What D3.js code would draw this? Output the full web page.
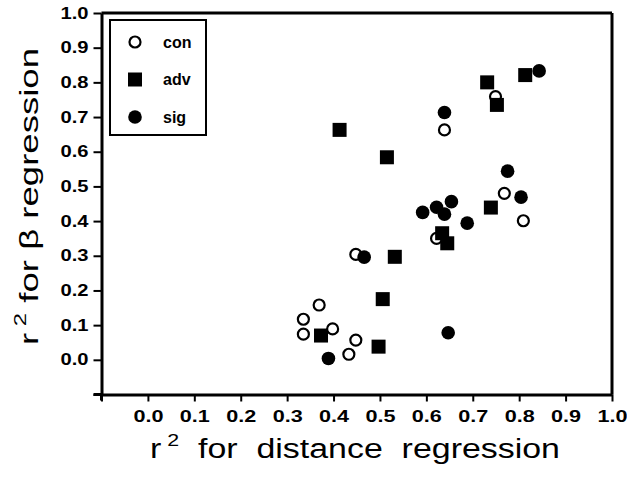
<!DOCTYPE html>
<html>
<head>
<meta charset="utf-8">
<script src="https://cdn.jsdelivr.net/npm/d3@7"></script>
<style>
  body { margin: 0; background: #fff; }
  text { font-family: "Liberation Sans", Arial, Helvetica, sans-serif; }
</style>
</head>
<body>
<div id="chart"></div>
<script>
// Data: [r2 distance, r2 beta]
const conData = [
    [0.335, 0.117], [0.335, 0.074], [0.369, 0.158], [0.398, 0.089],
    [0.448, 0.057], [0.433, 0.016], [0.448, 0.304], [0.622, 0.350],
    [0.639, 0.663], [0.749, 0.759], [0.768, 0.480], [0.809, 0.401]
];
const advData = [
    [0.373, 0.070], [0.497, 0.038], [0.506, 0.175], [0.532, 0.297],
    [0.413, 0.663], [0.515, 0.584], [0.634, 0.365], [0.645, 0.336],
    [0.739, 0.439], [0.731, 0.800], [0.752, 0.735], [0.813, 0.821]
];
const sigData = [
    [0.389, 0.004], [0.647, 0.078], [0.466, 0.296], [0.592, 0.425],
    [0.622, 0.440], [0.654, 0.456], [0.639, 0.420], [0.688, 0.394],
    [0.804, 0.469], [0.775, 0.544], [0.639, 0.713], [0.843, 0.833]
];
const seriesNames = ["con", "adv", "sig"];
const tickValues = [-0.1, 0.0, 0.1, 0.2, 0.3, 0.4, 0.5, 0.6, 0.7, 0.8, 0.9, 1.0];

const W = 627, H = 477;
const svg = d3.select("#chart")
    .append("svg")
    .attr("width", W)
    .attr("height", H);

svg.append("rect").attr("width", W).attr("height", H).attr("fill", "#fff");

// Scales (first tick at -0.1 is left unlabelled, like the original)
const x = d3.scaleLinear().domain([-0.1, 1.0]).range([101.5, 612]);
const y = d3.scaleLinear().domain([-0.1, 1.0]).range([394.5, 13]);

const fmt = d => d < -0.05 ? "" : d3.format(".1f")(d);

// Frame top and right
svg.append("line")
    .attr("x1", x(-0.1)).attr("x2", x(1.0))
    .attr("y1", y(1.0)).attr("y2", y(1.0))
    .attr("stroke", "#000").attr("stroke-width", 3);
svg.append("line")
    .attr("x1", x(1.0)).attr("x2", x(1.0))
    .attr("y1", y(1.0)).attr("y2", y(-0.1))
    .attr("stroke", "#000").attr("stroke-width", 3);

// Axes
const xAxis = svg.append("g")
    .attr("transform", `translate(0,${y(-0.1)})`)
    .call(d3.axisBottom(x).tickValues(tickValues).tickFormat(fmt).tickSize(7).tickPadding(9).tickSizeOuter(0));

const yAxis = svg.append("g")
    .attr("transform", `translate(${x(-0.1)},0)`)
    .call(d3.axisLeft(y).tickValues(tickValues).tickFormat(fmt).tickSize(8).tickPadding(5).tickSizeOuter(0));

[xAxis, yAxis].forEach(g => {
    g.select(".domain").attr("stroke", "#000").attr("stroke-width", 3);
    g.selectAll(".tick line").attr("stroke", "#000").attr("stroke-width", 2);
    g.selectAll(".tick text")
        .attr("fill", "#000")
        .style("font-size", "16px")
        .style("font-weight", "bold");
});
// the scan is stretched sideways, so the labels are wide
xAxis.selectAll(".tick text").filter(d => d > -0.05)
    .attr("textLength", 30).attr("lengthAdjust", "spacingAndGlyphs");
yAxis.selectAll(".tick text").filter(d => d > -0.05)
    .attr("textLength", 28).attr("lengthAdjust", "spacingAndGlyphs");

// axes poke out a little past the corner
svg.append("line")
    .attr("x1", x(-0.1) - 8).attr("x2", x(-0.1))
    .attr("y1", y(-0.1)).attr("y2", y(-0.1))
    .attr("stroke", "#000").attr("stroke-width", 3);
svg.append("line")
    .attr("x1", x(-0.1)).attr("x2", x(-0.1))
    .attr("y1", y(-0.1)).attr("y2", y(-0.1) + 6)
    .attr("stroke", "#000").attr("stroke-width", 3);

// Marker drawers
function drawCon(sel) {
    sel.append("circle").attr("r", 5.5)
        .attr("fill", "#fff").attr("stroke", "#000").attr("stroke-width", 2.2);
}
function drawAdv(sel) {
    sel.append("rect").attr("x", -7).attr("y", -7)
        .attr("width", 14).attr("height", 14).attr("fill", "#000");
}
function drawSig(sel) {
    sel.append("circle").attr("r", 6.8).attr("fill", "#000");
}
const drawers = [drawCon, drawAdv, drawSig];

// Points
[conData, advData, sigData].forEach((data, i) => {
    svg.append("g").selectAll("g")
        .data(data)
        .enter()
        .append("g")
        .attr("transform", d => `translate(${x(d[0])},${y(d[1])})`)
        .call(drawers[i]);
});

// Legend
svg.append("rect")
    .attr("x", 110).attr("y", 20)
    .attr("width", 96).attr("height", 115)
    .attr("fill", "none").attr("stroke", "#000").attr("stroke-width", 2);

const legend = svg.selectAll(".legend")
    .data(seriesNames)
    .enter()
    .append("g")
    .attr("class", "legend")
    .attr("transform", (d, i) => `translate(135,${42 + i * 37.5})`);

legend.each(function(d, i) { drawers[i](d3.select(this)); });

legend.append("text")
    .attr("x", 28)
    .attr("dy", ".35em")
    .style("font-size", "16px")
    .style("font-weight", "bold")
    .text(d => d);

// Axis titles
const xt = svg.append("text")
    .attr("x", 150)
    .attr("y", 458)
    .attr("textLength", 410)
    .attr("lengthAdjust", "spacingAndGlyphs")
    .style("font-size", "27px")
    .style("white-space", "pre");
xt.append("tspan").text("r");
xt.append("tspan").attr("dy", -12).style("font-size", "17px").text(" 2");
xt.append("tspan").attr("dy", 12).text("  for  distance  regression");

const yt = svg.append("text")
    .attr("transform", "rotate(-90)")
    .attr("x", -345)
    .attr("y", 38)
    .attr("textLength", 297)
    .attr("lengthAdjust", "spacingAndGlyphs")
    .style("font-size", "26px")
    .style("white-space", "pre");
yt.append("tspan").text("r");
yt.append("tspan").attr("dy", -12).style("font-size", "17px").text(" 2");
yt.append("tspan").attr("dy", 12).text(" for β regression");
</script>
</body>
</html>
